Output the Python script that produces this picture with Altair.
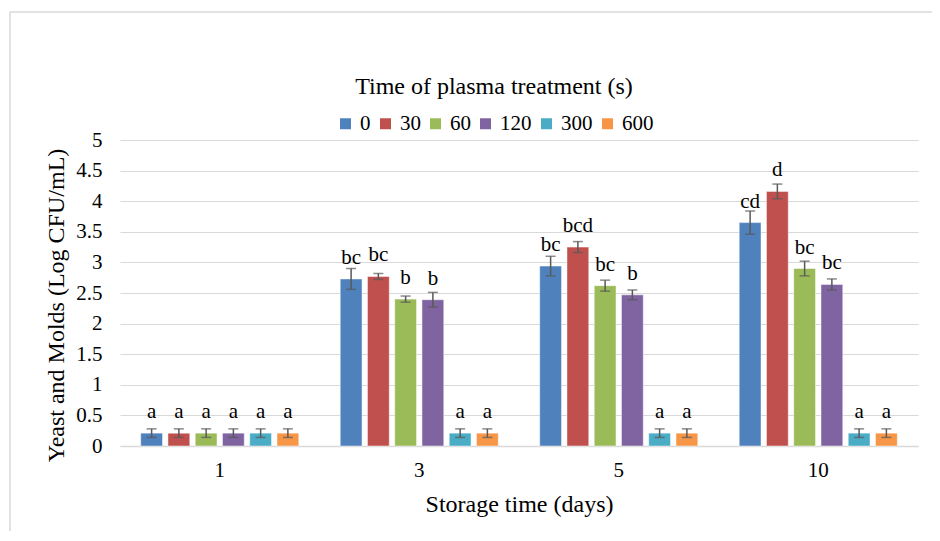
import altair as alt
import pandas as pd

days = ["1", "3", "5", "10"]
treatments = ["0", "30", "60", "120", "300", "600"]
colors = ["#4F81BD", "#C0504D", "#9BBB59", "#8064A2", "#4BACC6", "#F79646"]

means = {
    "0":   [0.21, 2.73, 2.94, 3.65],
    "30":  [0.21, 2.77, 3.25, 4.16],
    "60":  [0.21, 2.40, 2.62, 2.90],
    "120": [0.21, 2.39, 2.47, 2.64],
    "300": [0.21, 0.21, 0.21, 0.21],
    "600": [0.21, 0.21, 0.21, 0.21],
}
errors = {
    "0":   [0.07, 0.17, 0.16, 0.19],
    "30":  [0.07, 0.05, 0.09, 0.12],
    "60":  [0.07, 0.05, 0.09, 0.12],
    "120": [0.07, 0.12, 0.08, 0.09],
    "300": [0.07, 0.07, 0.07, 0.07],
    "600": [0.07, 0.07, 0.07, 0.07],
}
letters = {
    "0":   ["a", "bc", "bc", "cd"],
    "30":  ["a", "bc", "bcd", "d"],
    "60":  ["a", "b", "bc", "bc"],
    "120": ["a", "b", "b", "bc"],
    "300": ["a", "a", "a", "a"],
    "600": ["a", "a", "a", "a"],
}
y_ticks = [0, 0.5, 1, 1.5, 2, 2.5, 3, 3.5, 4, 4.5, 5]

rows = []
for t in treatments:
    for i, d in enumerate(days):
        m = means[t][i]
        e = errors[t][i]
        rows.append({"day": d, "trt": t, "mean": m, "lo": m - e, "hi": m + e,
                     "label": letters[t][i]})
df = pd.DataFrame(rows)

FONT = "Liberation Serif, Times New Roman, serif"

x_axis = alt.Axis(title="Storage time (days)", labelAngle=0, ticks=False,
                  domainColor="#d9d9d9", domainWidth=1.5, labelPadding=13,
                  labelFont=FONT, titleFont=FONT,
                  labelFontSize=21, titleFontSize=24, titlePadding=12)
y_axis = alt.Axis(title="Yeast and Molds (Log CFU/mL)", values=y_ticks,
                  format="~g", ticks=False, domain=False, gridColor="#d9d9d9",
                  gridWidth=1.2, labelPadding=18, labelOverlap=False,
                  labelFont=FONT, titleFont=FONT,
                  labelFontSize=21, titleFontSize=24,
                  titleX=-57, titleY=165, titleAlign="center",
                  titleBaseline="alphabetic", titleAngle=270)
x_scale = alt.Scale(paddingInner=0, paddingOuter=0)
y_scale = alt.Scale(domain=[0, 5])

def X():
    return alt.X("day:N", sort=days, scale=x_scale, axis=x_axis)

def Y(field):
    return alt.Y(field, type="quantitative", scale=y_scale, axis=y_axis)

xo = alt.XOffset("trt:N", sort=treatments,
                 scale=alt.Scale(paddingInner=0.2, paddingOuter=0.76))

base = alt.Chart(df)

bars = base.mark_bar(stroke="#ffffff", strokeWidth=0.8, strokeOpacity=0.6).encode(
    x=X(),
    xOffset=xo,
    y=Y("mean"),
    color=alt.Color("trt:N", sort=treatments,
                    scale=alt.Scale(domain=treatments, range=colors),
                    legend=alt.Legend(title="Time of plasma treatment (s)", orient="none",
                                      direction="horizontal", legendX=215, legendY=-65,
                                      padding=0, titleLimit=0, labelLimit=0,
                                      titleAnchor="middle", titleOrient="top",
                                      symbolType="square", symbolSize=121,
                                      symbolStrokeWidth=0, labelOffset=4,
                                      columnPadding=4, titlePadding=14,
                                      labelFont=FONT, titleFont=FONT,
                                      titleFontSize=24, labelFontSize=21)),
)

rules = base.mark_rule(color="#595959", strokeWidth=1.5).encode(
    x=X(), xOffset=xo, y=Y("lo"), y2="hi:Q")
caps_hi = base.mark_tick(color="#595959", thickness=1.5, size=10, orient="horizontal").encode(
    x=X(), xOffset=xo, y=Y("hi"))
caps_lo = base.mark_tick(color="#595959", thickness=1.5, size=10, orient="horizontal").encode(
    x=X(), xOffset=xo, y=Y("lo"))
text = base.mark_text(baseline="alphabetic", dy=-15, font=FONT, fontSize=21, color="#000000").encode(
    x=X(), xOffset=xo, y=Y("mean"), text="label:N")

border_top = alt.Chart(pd.DataFrame({"k": [0]})).mark_rule(color="#d9d9d9", strokeWidth=1.5).encode(
    x=alt.value(-110), x2=alt.value(900), y=alt.value(-128))
border_left = alt.Chart(pd.DataFrame({"k": [0]})).mark_rule(color="#d9d9d9", strokeWidth=1.5).encode(
    x=alt.value(-110), y=alt.value(-128), y2=alt.value(500))

chart = alt.layer(border_top, border_left, bars, rules, caps_hi, caps_lo, text).properties(
    width=798, height=306,
    autosize=alt.AutoSizeParams(type="none"),
    padding={"left": 112, "top": 132, "right": 14, "bottom": 85},
).configure(font=FONT).configure_axis(
    labelFont=FONT, titleFont=FONT,
    labelColor="#000000", titleColor="#000000", titleFontWeight="normal",
).configure_legend(
    labelFont=FONT, titleFont=FONT,
    labelColor="#000000", titleColor="#000000", titleFontWeight="normal",
).configure_text(font=FONT).configure_view(stroke=None)

chart.save("out.html", embed_options={"renderer": "svg", "actions": False})
